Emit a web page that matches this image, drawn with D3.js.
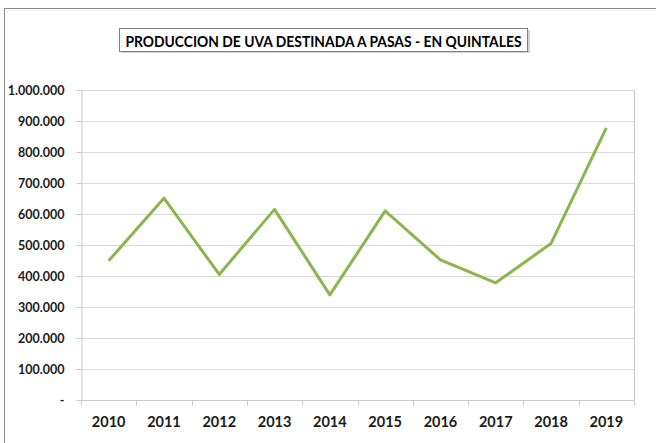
<!DOCTYPE html>
<html>
<head>
<meta charset="utf-8">
<script src="https://cdn.jsdelivr.net/npm/d3@7"></script>
<style>
  body { margin: 0; background: #fff; }
  text { font-family: Lato, "Open Sans", "DejaVu Sans", sans-serif; }
</style>
</head>
<body>
<svg width="656" height="443"></svg>
<script>
// ==============
// CHART DATA
// ==============
var years = ["2010", "2011", "2012", "2013", "2014", "2015", "2016", "2017", "2018", "2019"];
var quintales = [449000, 651000, 405000, 615000, 339000, 610000, 452000, 378000, 505000, 878000];
var yTicks = [0, 100000, 200000, 300000, 400000, 500000, 600000, 700000, 800000, 900000, 1000000];
var title = "PRODUCCION DE UVA DESTINADA A PASAS - EN QUINTALES";

var svg = d3.select("svg");
var margin = { left: 81, right: 22, top: 90, bottom: 43 };
var width = 656 - margin.left - margin.right,
  height = 443 - margin.top - margin.bottom;

// outer chart frame
svg.append("rect")
  .attr("x", 4.5).attr("y", 8.5)
  .attr("width", 700).attr("height", 440)
  .attr("fill", "none").attr("stroke", "#8c8c8c");

// ==============
// TITLE BOX
// ==============
svg.append("rect")
  .attr("x", 121).attr("y", 30)
  .attr("width", 409).attr("height", 23)
  .attr("fill", "#c8c8c8").attr("opacity", 0.8);
svg.append("rect")
  .attr("x", 119.5).attr("y", 28.5)
  .attr("width", 408).attr("height", 23)
  .attr("fill", "#fff").attr("stroke", "#7f7f7f");
svg.append("text")
  .attr("x", 323.5).attr("y", 40.5)
  .attr("text-anchor", "middle").attr("dominant-baseline", "central")
  .attr("font-size", "15px").attr("font-weight", "bold")
  .attr("textLength", 396).attr("lengthAdjust", "spacingAndGlyphs")
  .attr("fill", "#000")
  .text(title);

var g = svg.append("g").attr("transform", "translate(" + margin.left + "," + margin.top + ")");

var x = d3.scaleBand().domain(years).range([0, width]);
var y = d3.scaleLinear().domain([0, 1000000]).range([height, 0]);

// gridlines
g.append("g").selectAll("line")
  .data(yTicks.slice(1))
  .enter().append("line")
  .attr("x1", 0).attr("x2", width)
  .attr("y1", function (d) { return Math.round(y(d)) + 0.5; })
  .attr("y2", function (d) { return Math.round(y(d)) + 0.5; })
  .attr("stroke", "#d9d9d9");

// right border of plot
g.append("line")
  .attr("x1", width + 0.5).attr("x2", width + 0.5)
  .attr("y1", 0).attr("y2", height)
  .attr("stroke", "#c8c8c8");

// y axis
var fmt = function (d) {
  if (d === 0) return "-";
  return d3.format(",")(d).replace(/,/g, ".");
};
var yAxis = g.append("g")
  .attr("transform", "translate(0.5,0)")
  .call(d3.axisLeft(y).tickValues(yTicks).tickFormat(fmt).tickSize(5).tickPadding(12));
yAxis.select(".domain").attr("stroke", "#c8c8c8");
yAxis.selectAll(".tick line").attr("stroke", "#c8c8c8");
yAxis.selectAll("text")
  .attr("font-size", "12.5px").attr("font-weight", "bold").attr("fill", "#1a1a1a");

// x axis, ticks between categories
var xAxis = g.append("g")
  .attr("transform", "translate(0," + (height + 0.5) + ")");
xAxis.append("line")
  .attr("x1", 0).attr("x2", width)
  .attr("stroke", "#c8c8c8");
xAxis.selectAll("line.tk")
  .data(years.concat(["end"]))
  .enter().append("line")
  .attr("class", "tk")
  .attr("x1", function (d, i) { return Math.round(i * x.step()) + 0.5; })
  .attr("x2", function (d, i) { return Math.round(i * x.step()) + 0.5; })
  .attr("y1", 0).attr("y2", 5)
  .attr("stroke", "#c8c8c8");
xAxis.selectAll("text")
  .data(years)
  .enter().append("text")
  .attr("x", function (d) { return x(d) + x.bandwidth() / 2; })
  .attr("y", 20.5)
  .attr("text-anchor", "middle").attr("dominant-baseline", "central")
  .attr("font-size", "14.5px").attr("font-weight", "bold").attr("fill", "#1a1a1a")
  .text(function (d) { return d; });

// the series
var line = d3.line()
  .x(function (d, i) { return x(years[i]) + x.bandwidth() / 2; })
  .y(function (d) { return y(d); });

g.append("path")
  .datum(quintales)
  .attr("d", line)
  .attr("fill", "none")
  .attr("stroke", "#8db54f")
  .attr("stroke-width", 3)
  .attr("stroke-linejoin", "round");
</script>
</body>
</html>
